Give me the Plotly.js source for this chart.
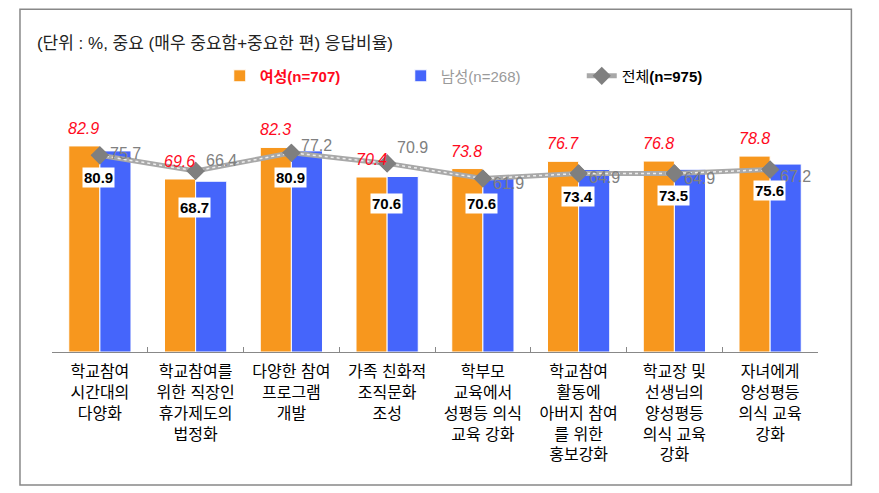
<!DOCTYPE html>
<html>
<head>
<meta charset="utf-8">
<script src="https://cdn.plot.ly/plotly-3.0.1.min.js"></script>
<style>html,body{margin:0;padding:0;background:#fff;}#chart{width:879px;height:493px;}</style>
</head>
<body>
<div id="chart"></div>
<script>
const categories = ['학교참여 시간대의 다양화','학교참여를 위한 직장인 휴가제도의 법정화','다양한 참여 프로그램 개발','가족 친화적 조직문화 조성','학부모 교육에서 성평등 의식 교육 강화','학교참여 활동에 아버지 참여를 위한 홍보강화','학교장 및 선생님의 양성평등 의식 교육 강화','자녀에게 양성평등 의식 교육 강화'];
const tickLabels = ['학교참여<br>시간대의<br>다양화','학교참여를<br>위한 직장인<br>휴가제도의<br>법정화','다양한 참여<br>프로그램<br>개발','가족 친화적<br>조직문화<br>조성','학부모<br>교육에서<br>성평등 의식<br>교육 강화','학교참여<br>활동에<br>아버지 참여<br>를 위한<br>홍보강화','학교장 및<br>선생님의<br>양성평등<br>의식 교육<br>강화','자녀에게<br>양성평등<br>의식 교육<br>강화'];
const female = [82.9, 69.6, 82.3, 70.4, 73.8, 76.7, 76.8, 78.8];
const male = [80.9, 68.7, 80.9, 70.6, 70.6, 73.4, 73.5, 75.6];
const total = [75.7, 66.4, 77.2, 70.9, 61.9, 64.9, 64.9, 67.2];
const seriesNames = ['여성(n=707)', '남성(n=268)', '전체', '(n=975)'];
const unitNote = '(단위 : %, 중요 (매우 중요함+중요한 편) 응답비율)';

const FONT = 'Liberation Sans, Arial, Noto Sans CJK KR, sans-serif';
const ORANGE = '#F7971E', BLUE = '#4565FB', GRAY = '#7F7F7F';
// label offsets (px, up is positive) for the total line's value labels
const totalLabelLift = [2, 10, 7, 16, -5, -4, -5, -7];

const traces = [
  {type:'bar', x:categories, y:female, name:'<span style="color:#FF0A1E"><b>'+seriesNames[0]+'</b></span>',
   marker:{color:ORANGE, line:{color:'#fff', width:1}}, hoverinfo:'skip'},
  {type:'bar', x:categories, y:male, name:'<span style="color:#9A9A9A">'+seriesNames[1]+'</span>',
   marker:{color:BLUE, line:{color:'#fff', width:1}}, hoverinfo:'skip'},
  {type:'scatter', mode:'lines+markers', x:categories, y:total, yaxis:'y2',
   name:'<span style="color:#000">'+seriesNames[2]+'<b>'+seriesNames[3]+'</b></span>',
   line:{color:'#A8A8A8', width:5}, marker:{symbol:'diamond', size:14, color:GRAY}, hoverinfo:'skip'},
  {type:'scatter', mode:'lines', x:categories, y:total, yaxis:'y2', showlegend:false,
   line:{color:'#EDEDED', width:1.5, dash:'dot'}, hoverinfo:'skip'},
  {type:'scatter', mode:'markers', x:categories, y:total, yaxis:'y2', showlegend:false,
   marker:{symbol:'diamond', size:14, color:GRAY}, cliponaxis:false, hoverinfo:'skip'}
];

const annotations = [];
categories.forEach((c,i)=>{
  annotations.push({x:c, y:female[i], xref:'x', yref:'y', text:female[i].toFixed(1), showarrow:false,
    xshift:-16, yshift:7, yanchor:'bottom', font:{family:FONT, size:16, color:'#FF0A1E', style:'italic'}});
  annotations.push({x:c, y:total[i], xref:'x', yref:'y2', text:total[i].toFixed(1), showarrow:false,
    xanchor:'left', yanchor:'middle', xshift:8, yshift:totalLabelLift[i],
    font:{family:FONT, size:16, color:'#808080'}});
});
categories.forEach((c,i)=>{
  annotations.push({x:c, y:male[i], xref:'x', yref:'y', text:'<b>'+male[i].toFixed(1)+'</b>', showarrow:false,
    xshift:-1, yshift:-16, yanchor:'top', bgcolor:'#fff', borderpad:1,
    font:{family:FONT, size:15, color:'#000'}});
});

const layout = {
  width:879, height:493,
  margin:{l:52, r:61, t:133, b:141, autoexpand:false},
  paper_bgcolor:'#fff', plot_bgcolor:'#fff',
  font:{family:FONT, size:15, color:'#000'},
  title:{text:unitNote, x:0.042, xanchor:'left', xref:'container', y:0.913, yanchor:'middle', yref:'container',
    font:{family:FONT, size:17, color:'#222'}},
  barmode:'group', bargap:0.35, bargroupgap:0,
  showlegend:true,
  legend:{orientation:'h', x:0.219, xanchor:'left', y:1.26, yanchor:'middle', entrywidth:136,
    font:{family:FONT, size:15}, bgcolor:'rgba(0,0,0,0)', traceorder:'normal'},
  xaxis:{type:'category', tickvals:categories, ticktext:tickLabels, showline:true, linecolor:'#888', linewidth:1,
    ticks:'inside', ticklen:5, tickcolor:'#888', tickson:'boundaries', showgrid:false, zeroline:false,
    ticklabelstandoff:5, tickfont:{family:FONT, size:16, color:'#000'}, fixedrange:true},
  yaxis:{range:[0, 88.1], showticklabels:false, showgrid:false, zeroline:false, showline:false, ticks:'', fixedrange:true},
  yaxis2:{range:[-41.4, 89], overlaying:'y', visible:false, fixedrange:true},
  annotations:annotations,
  shapes:[{type:'rect', xref:'paper', yref:'paper', x0:-0.0418, x1:1.0436, y0:-0.607, y1:1.5648,
    line:{color:'#888', width:1.5}, fillcolor:'rgba(0,0,0,0)', layer:'below'}]
};

Plotly.newPlot('chart', traces, layout, {displayModeBar:false, staticPlot:true});
</script>
</body>
</html>
